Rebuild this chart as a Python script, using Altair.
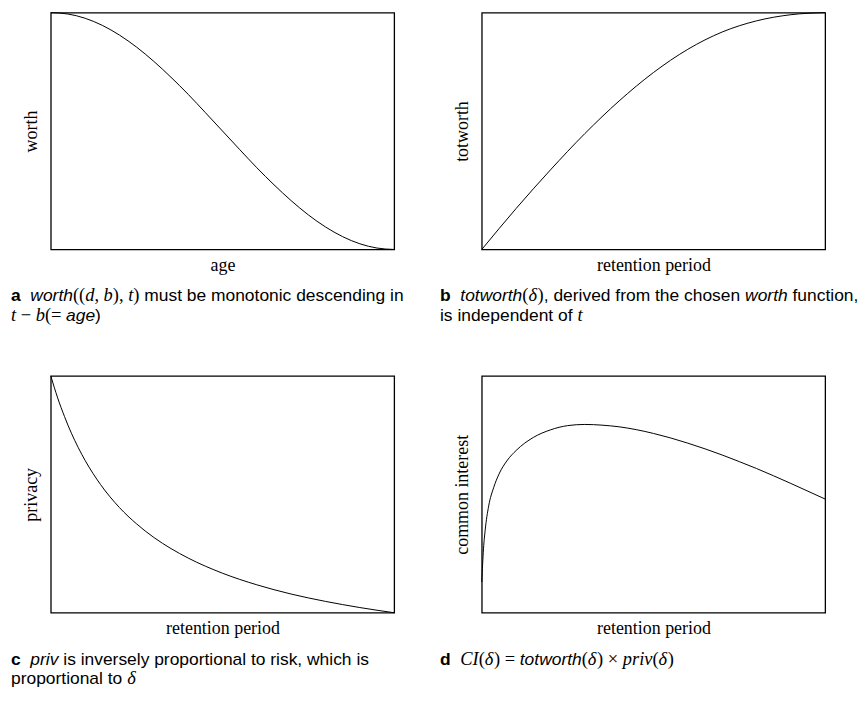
import altair as alt
import pandas as pd

# ---------------- data ----------------
age = [0, 0.05, 0.1, 0.15, 0.2, 0.25, 0.3, 0.35, 0.4, 0.45, 0.5, 0.55, 0.6, 0.65, 0.7, 0.75, 0.8, 0.85, 0.9, 0.95, 1.0]
worth = [1.0, 0.994, 0.976, 0.946, 0.905, 0.854, 0.794, 0.727, 0.655, 0.578, 0.5, 0.422, 0.345, 0.273, 0.206, 0.146, 0.095, 0.054, 0.024, 0.006, 0.0]

ret_b = [0, 0.1, 0.2, 0.3, 0.4, 0.5, 0.6, 0.7, 0.8, 0.9, 1.0]
totworth = [0, 0.173, 0.336, 0.489, 0.627, 0.747, 0.845, 0.918, 0.965, 0.991, 1.0]

ret_c = [0, 0.01, 0.02, 0.04, 0.06, 0.08, 0.1, 0.145, 0.2, 0.25, 0.3, 0.35, 0.4, 0.5, 0.6, 0.7, 0.8, 0.9, 1.0]
privacy = [1.0, 0.952, 0.907, 0.828, 0.758, 0.697, 0.643, 0.541, 0.444, 0.375, 0.318, 0.271, 0.231, 0.167, 0.118, 0.079, 0.048, 0.022, 0.0]

ret_d = [0, 0.005, 0.01, 0.02, 0.035, 0.05, 0.075, 0.1, 0.15, 0.2, 0.25, 0.3, 0.35, 0.4, 0.45, 0.5,
         0.55, 0.6, 0.65, 0.7, 0.75, 0.8, 0.85, 0.9, 0.95, 1.0]
common_interest = [0.13, 0.27, 0.35, 0.45, 0.53, 0.585, 0.645, 0.685, 0.74, 0.772, 0.79, 0.795, 0.792, 0.785, 0.773, 0.757,
                   0.738, 0.716, 0.692, 0.666, 0.638, 0.609, 0.578, 0.546, 0.513, 0.48]

x_titles = ["age", "retention period", "retention period", "retention period"]
y_titles = ["worth", "totworth", "privacy", "common interest"]

# caption runs: (text, font key)  B=bold sans, S=sans, I=italic sans, MR=serif, MI=serif italic
cap_a = [
    [("a", "B"), ("  ", "S"), ("worth", "I"), ("((", "MR"), ("d", "MI"), (", ", "MR"), ("b", "MI"),
     ("), ", "MR"), ("t", "MI"), (")", "MR"), (" must be monotonic descending in", "S")],
    [("t", "MI"), (" \u2212 ", "MR"), ("b", "MI"), ("(= ", "MR"), ("age", "I"), (")", "S")],
]
cap_b = [
    [("b", "B"), ("  ", "S"), ("totworth", "I"), ("(", "MR"), ("\u03b4", "MI"), (")", "MR"),
     (", derived from the chosen ", "S"), ("worth", "I"), (" function,", "S")],
    [("is independent of ", "S"), ("t", "MI")],
]
cap_c = [
    [("c", "B"), ("  ", "S"), ("priv", "I"), (" is inversely proportional to risk, which is", "S")],
    [("proportional to ", "S"), ("\u03b4", "MI")],
]
cap_d = [
    [("d", "B"), ("  ", "S"), ("CI", "MI"), ("(", "MR"), ("\u03b4", "MI"), (") = ", "MR"), ("totworth", "I"),
     ("(", "MR"), ("\u03b4", "MI"), (") \u00d7 ", "MR"), ("priv", "MI"), ("(", "MR"), ("\u03b4", "MI"), (")", "MR")],
]

# ---------------- styling ----------------
W, H = 345, 238
SANS = "Liberation Sans"
SERIF = "Liberation Serif"
FS = 17.5
FM = 18.5

HELV = {' ': 278, 'a': 556, 'b': 556, 'c': 500, 'd': 556, 'e': 556, 'f': 278, 'g': 556, 'h': 556, 'i': 222,
        'j': 222, 'k': 500, 'l': 222, 'm': 833, 'n': 556, 'o': 556, 'p': 556, 'q': 556, 'r': 333, 's': 500,
        't': 278, 'u': 556, 'v': 500, 'w': 722, 'x': 500, 'y': 500, 'z': 500, ',': 278, '(': 333, ')': 333, '=': 584}
HELVB = {'a': 556, 'b': 611, 'c': 556, 'd': 611, ' ': 278}
TIMES = {' ': 250, '(': 333, ')': 333, ',': 250, '=': 564, '\u00d7': 564, '\u2212': 564}
TIMESI = {'b': 500, 'd': 500, 't': 278, 'C': 667, 'I': 333, '\u03b4': 500, 'p': 500, 'r': 389, 'i': 278, 'v': 444}

FONTS = {
    "B": (HELVB, SANS, FS, "normal", "bold"),
    "S": (HELV, SANS, FS, "normal", "normal"),
    "I": (HELV, SANS, FS, "italic", "normal"),
    "MR": (TIMES, SERIF, FM, "normal", "normal"),
    "MI": (TIMESI, SERIF, FM, "italic", "normal"),
}


def width(text, key):
    table, _, size, _, _ = FONTS[key]
    return sum(table.get(ch, 500) for ch in text) * size / 1000.0


def caption_layers(lines, x0, y0, lh=20):
    layers = []
    for i, runs in enumerate(lines):
        x = x0
        for text, key in runs:
            stripped = text.strip()
            if stripped:
                lead = len(text) - len(text.lstrip())
                _, font, size, style, weight = FONTS[key]
                xs = x + width(text[:lead], key)
                layers.append(
                    alt.Chart(pd.DataFrame({"t": [stripped]}))
                    .mark_text(align="left", baseline="alphabetic", font=font, fontSize=size,
                               fontStyle=style, fontWeight=weight, color="black")
                    .encode(text="t:N", x=alt.value(xs), y=alt.value(y0 + i * lh))
                )
            x += width(text, key)
    return layers


def panel(xs, ys, xtitle, ytitle, caption, cx):
    df = pd.DataFrame({"x": xs, "y": ys})
    ax = dict(labels=False, ticks=False, domain=False, grid=False, titleFont=SERIF, titleFontSize=18,
              titleFontWeight="normal", titleColor="black")
    line = alt.Chart(df).mark_line(color="black", strokeWidth=1, interpolate="monotone").encode(
        x=alt.X("x:Q", scale=alt.Scale(domain=[0, 1], nice=False, zero=False),
                axis=alt.Axis(title=xtitle, titlePadding=7, **ax)),
        y=alt.Y("y:Q", scale=alt.Scale(domain=[0, 1], nice=False, zero=False),
                axis=alt.Axis(title=ytitle, titlePadding=10, **ax)),
    )
    return alt.layer(line, *caption_layers(caption, cx, H + 52)).properties(width=W, height=H)


pa = panel(age, worth, x_titles[0], y_titles[0], cap_a, -40)
pb = panel(ret_b, totworth, x_titles[1], y_titles[1], cap_b, -42)
pc = panel(ret_c, privacy, x_titles[2], y_titles[2], cap_c, -40)
pdd = panel(ret_d, common_interest, x_titles[3], y_titles[3], cap_d, -42)

chart = (
    alt.concat(pa, pb, pc, pdd, columns=2, spacing={"row": 127, "column": 88}, bounds="flush")
    .properties(padding={"left": 2, "top": 0, "right": 0, "bottom": 0}, background="white")
    .configure_view(stroke="black", strokeWidth=1.3)
)

chart.save("out.html", embed_options={"renderer": "svg", "actions": False})
